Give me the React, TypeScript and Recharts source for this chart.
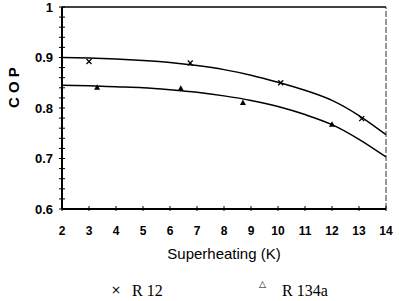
import {
  ComposedChart,
  Line,
  Scatter,
  XAxis,
  YAxis,
  ReferenceLine,
} from 'recharts';

// fitted curves, read at whole kelvin steps
const curveX = [2, 3, 4, 5, 6, 7, 8, 9, 10, 11, 12, 13, 14];
const r12Curve = [0.9, 0.899, 0.897, 0.894, 0.89, 0.884, 0.876, 0.865, 0.851, 0.835, 0.815, 0.785, 0.747];
const r134aCurve = [0.845, 0.844, 0.842, 0.84, 0.836, 0.831, 0.824, 0.815, 0.803, 0.787, 0.767, 0.738, 0.703];

// measured points
const r12X = [3.0, 6.75, 10.1, 13.1];
const r12Y = [0.892, 0.889, 0.85, 0.779];
const r134aX = [3.3, 6.4, 8.7, 12.0];
const r134aY = [0.84, 0.838, 0.81, 0.767];

const xTicks = [2, 3, 4, 5, 6, 7, 8, 9, 10, 11, 12, 13, 14];
const yTicks = [0.6, 0.62, 0.64, 0.66, 0.68, 0.7, 0.72, 0.74, 0.76, 0.78, 0.8, 0.82, 0.84, 0.86, 0.88, 0.9, 0.92, 0.94, 0.96, 0.98, 1];
const yMajor = [0.6, 0.7, 0.8, 0.9, 1];

const r12Line = curveX.map((x, i) => ({ x, y: r12Curve[i] }));
const r134aLine = curveX.map((x, i) => ({ x, y: r134aCurve[i] }));
const r12Pts = r12X.map((x, i) => ({ x, y: r12Y[i] }));
const r134aPts = r134aX.map((x, i) => ({ x, y: r134aY[i] }));

const font = "'Liberation Sans', Arial, sans-serif";

const Cross = (props: { cx?: number; cy?: number }) => {
  const { cx = 0, cy = 0 } = props;
  return (
    <g stroke="#000" strokeWidth={1.3}>
      <line x1={cx - 2.5} y1={cy - 2.5} x2={cx + 2.5} y2={cy + 2.5} />
      <line x1={cx - 2.5} y1={cy + 2.5} x2={cx + 2.5} y2={cy - 2.5} />
    </g>
  );
};

const Tri = (props: { cx?: number; cy?: number }) => {
  const { cx = 0, cy = 0 } = props;
  return <path d={`M${cx},${cy - 3.5} L${cx + 3},${cy + 2} L${cx - 3},${cy + 2} Z`} fill="#000" />;
};

// axis x comes in as p.x (tickSize 0, tickMargin 0)
const YTick = (props: { x?: number; y?: number; payload?: { value: number } }) => {
  const { x = 0, y = 0, payload } = props;
  const v = payload ? payload.value : 0;
  const major = yMajor.some((m) => Math.abs(m - v) < 1e-6);
  return (
    <g>
      <line x1={x - 3} y1={y} x2={x + 3} y2={y} stroke="#000" strokeWidth={1} />
      {major && (
        <text x={x - 9} y={y} dy="0.35em" textAnchor="end" fontSize={13} fontWeight="bold" fill="#000" fontFamily={font}>
          {v === 1 ? '1' : v.toFixed(1)}
        </text>
      )}
    </g>
  );
};

export default function App() {
  return (
    <div style={{ position: 'fixed', left: 0, top: 0, width: 399, height: 301, background: '#fff' }}>
      <ComposedChart width={399} height={301} margin={{ top: 7, right: 13, left: 0, bottom: 62 }}>
        <XAxis
          type="number"
          dataKey="x"
          domain={[2, 14]}
          ticks={xTicks}
          allowDataOverflow
          axisLine={{ stroke: '#000', strokeWidth: 2 }}
          tickLine={{ stroke: '#000', transform: 'translate(0,-3)' }}
          tickSize={5}
          tickMargin={12}
          tick={{ fill: '#000', fontSize: 12, fontWeight: 'bold', fontFamily: font }}
          height={30}
          label={{
            value: 'Superheating (K)',
            position: 'insideBottom',
            offset: -20,
            fill: '#000',
            fontSize: 15,
            fontFamily: font,
          }}
        />
        <YAxis
          type="number"
          dataKey="y"
          domain={[0.6, 1]}
          ticks={yTicks}
          interval={0}
          allowDataOverflow
          width={62}
          axisLine={{ stroke: '#000', strokeWidth: 2 }}
          tickLine={false}
          tickSize={0}
          tickMargin={0}
          tick={(p: any) => <YTick x={p.x} y={p.y} payload={p.payload} />}
          label={{
            value: 'C O P',
            angle: -90,
            position: 'insideLeft',
            offset: 14,
            fill: '#000',
            fontSize: 15,
            fontWeight: 'bold',
            fontFamily: font,
          }}
        />
        <ReferenceLine y={1} stroke="#000" strokeWidth={1.5} />
        <ReferenceLine x={14} stroke="#333" strokeWidth={1} strokeDasharray="6 2" />
        <Line data={r12Line} dataKey="y" type="monotone" stroke="#000" strokeWidth={1.5} dot={false} isAnimationActive={false} />
        <Line data={r134aLine} dataKey="y" type="monotone" stroke="#000" strokeWidth={1.5} dot={false} isAnimationActive={false} />
        <Scatter data={r12Pts} dataKey="y" shape={<Cross />} isAnimationActive={false} />
        <Scatter data={r134aPts} dataKey="y" shape={<Tri />} isAnimationActive={false} />
      </ComposedChart>
      <div style={{ position: 'absolute', left: 0, top: 281, width: 399, height: 20, fontFamily: "'Liberation Serif', 'Times New Roman', serif", fontSize: 16, color: '#000', lineHeight: '18px' }}>
        <span style={{ position: 'absolute', left: 111, top: 0, fontSize: 12, fontFamily: "'DejaVu Sans', sans-serif" }}>×</span>
        <span style={{ position: 'absolute', left: 132, top: 1 }}>R 12</span>
        <span style={{ position: 'absolute', left: 259, top: -6, fontSize: 9, fontFamily: "'DejaVu Sans', sans-serif" }}>△</span>
        <span style={{ position: 'absolute', left: 282, top: 1 }}>R 134a</span>
      </div>
    </div>
  );
}
